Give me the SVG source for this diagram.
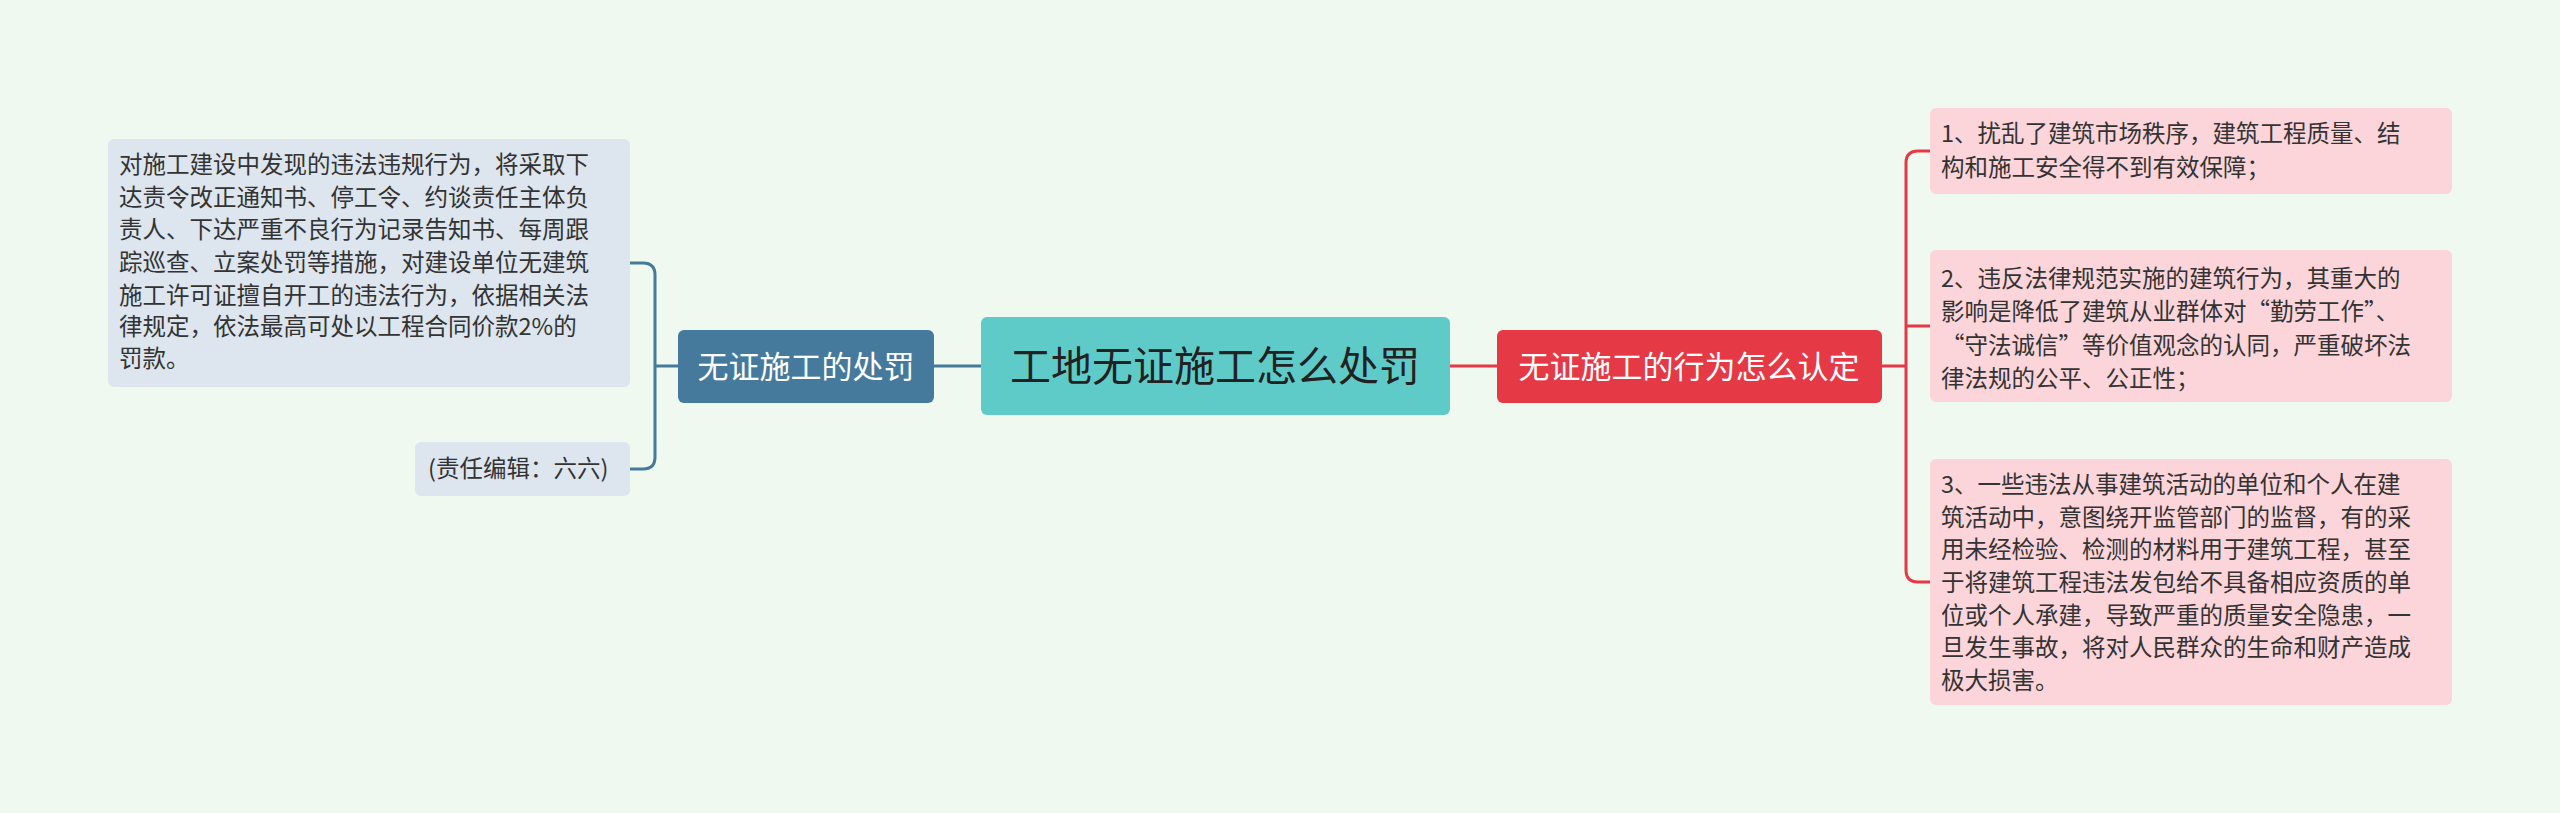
<svg xmlns="http://www.w3.org/2000/svg" width="2560" height="813" viewBox="0 0 2560 813">
<style>
text{font-family:"Noto Sans CJK SC","Noto Sans",sans-serif}
.lf{font-size:23.5px;fill:#333}
.l{fill:none;stroke-width:3}
</style>
<rect width="2560" height="813" fill="#f0f9ef"/>
<g id="connectors">
<path class="l" stroke="#457a9c" d="M934 366H981"/>
<path class="l" stroke="#457a9c" d="M678 366H655M630 263H643Q655 263 655 275V457Q655 469 643 469H630"/>
<path class="l" stroke="#e63946" d="M1450 366H1497"/>
<path class="l" stroke="#e63946" d="M1882 366H1906M1930 151H1918Q1906 151 1906 163V570Q1906 582 1918 582H1930M1906 326H1930"/>
</g>
<g id="center"><rect x="981" y="317" width="469" height="98" rx="6" fill="#5fcbc8"/><text x="1215" y="381" text-anchor="middle" font-size="41" fill="#222">工地无证施工怎么处罚</text></g>
<g id="left"><rect x="678" y="330" width="256" height="73" rx="6" fill="#457a9c"/><text x="806" y="378" text-anchor="middle" font-size="31" fill="#fff">无证施工的处罚</text></g>
<g id="right"><rect x="1497" y="330" width="385" height="73" rx="6" fill="#e63946"/><text x="1689" y="378" text-anchor="middle" font-size="31" fill="#fff">无证施工的行为怎么认定</text></g>
<g id="leafL1"><rect x="108" y="139" width="522" height="248" rx="6" fill="#dde5ee"/>
<text class="lf" x="119"><tspan x="119" y="173">对施工建设中发现的违法违规行为，将采取下</tspan><tspan x="119" y="206">达责令改正通知书、停工令、约谈责任主体负</tspan><tspan x="119" y="238">责人、下达严重不良行为记录告知书、每周跟</tspan><tspan x="119" y="271">踪巡查、立案处罚等措施，对建设单位无建筑</tspan><tspan x="119" y="304">施工许可证擅自开工的违法行为，依据相关法</tspan><tspan x="119" y="335">律规定，依法最高可处以工程合同价款2%的</tspan><tspan x="119" y="367">罚款。</tspan></text></g>
<g id="leafL2"><rect x="415" y="442" width="215" height="54" rx="6" fill="#dde5ee"/><text class="lf" x="428" y="477">(责任编辑：六六)</text></g>
<g id="leafR1"><rect x="1930" y="108" width="522" height="86" rx="6" fill="#fbd5da"/>
<text class="lf"><tspan x="1941" y="142">1、扰乱了建筑市场秩序，建筑工程质量、结</tspan><tspan x="1941" y="176">构和施工安全得不到有效保障；</tspan></text></g>
<g id="leafR2"><rect x="1930" y="250" width="522" height="152" rx="6" fill="#fbd5da"/>
<text class="lf"><tspan x="1941" y="287">2、违反法律规范实施的建筑行为，其重大的</tspan><tspan x="1941" y="320">影响是降低了建筑从业群体对“勤劳工作”、</tspan><tspan x="1941" y="354">“守法诚信”等价值观念的认同，严重破坏法</tspan><tspan x="1941" y="387">律法规的公平、公正性；</tspan></text></g>
<g id="leafR3"><rect x="1930" y="459" width="522" height="246" rx="6" fill="#fbd5da"/>
<text class="lf"><tspan x="1941" y="493">3、一些违法从事建筑活动的单位和个人在建</tspan><tspan x="1941" y="526">筑活动中，意图绕开监管部门的监督，有的采</tspan><tspan x="1941" y="558">用未经检验、检测的材料用于建筑工程，甚至</tspan><tspan x="1941" y="591">于将建筑工程违法发包给不具备相应资质的单</tspan><tspan x="1941" y="624">位或个人承建，导致严重的质量安全隐患，一</tspan><tspan x="1941" y="656">旦发生事故，将对人民群众的生命和财产造成</tspan><tspan x="1941" y="689">极大损害。</tspan></text></g>
</svg>
